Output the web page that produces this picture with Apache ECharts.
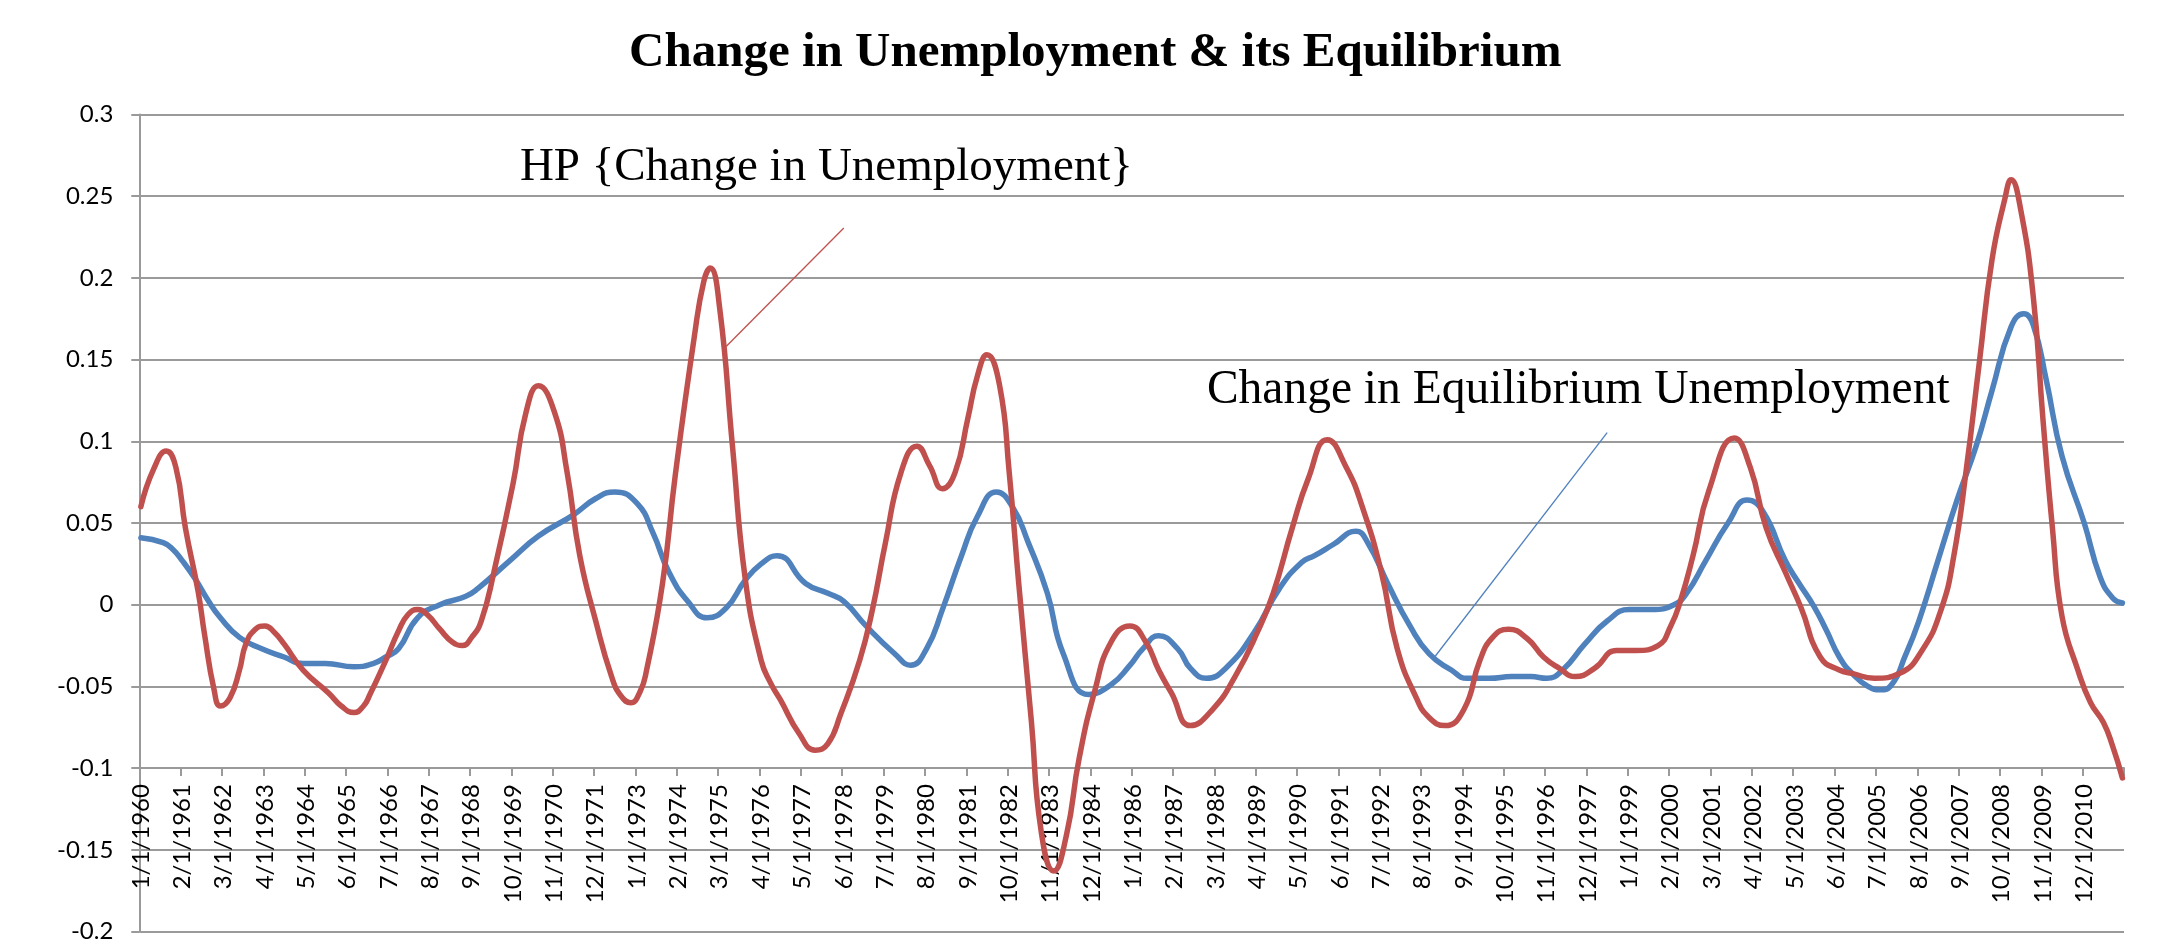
<!DOCTYPE html>
<html>
<head>
<meta charset="utf-8">
<script src="https://cdn.jsdelivr.net/npm/echarts@6/dist/echarts.min.js"></script>
<style>
html,body{margin:0;padding:0;background:#ffffff;}
#chart{width:2167px;height:950px;}
</style>
</head>
<body>
<div id="chart"></div>
<script>
// ---------- DATA ----------
// Monthly categories, January 1960 onwards (624 months)
const startYear = 1960;
const monthCount = 624;
const categories = [];
for (let i = 0; i < monthCount; i++) {
  categories.push((i % 12 + 1) + '/1/' + (startYear + Math.floor(i / 12)));
}

// Change in equilibrium unemployment: [month index, value]
const eqChange = [
  [0,0.041],[7,0.038],[10,0.034],[13,0.027],[17,0.016],[21,0.003],[25,-0.008],[31,-0.020],
  [38,-0.027],[45,-0.032],[51,-0.036],[58,-0.036],[67,-0.038],[73,-0.036],[77,-0.032],[81,-0.027],
  [87,-0.008],[94,0.000],[102,0.005],[106,0.010],[116,0.027],[125,0.042],[136,0.055],[143,0.065],
  [149,0.069],[156,0.062],[161,0.044],[166,0.020],[172,0.002],[178,-0.008],[184,-0.002],[190,0.015],
  [195,0.025],[200,0.030],[209,0.013],[216,0.007],[221,0.002],[228,-0.013],[237,-0.030],[242,-0.037],
  [247,-0.027],[252,-0.003],[258,0.030],[263,0.054],[269,0.069],[274,0.060],[279,0.038],[285,0.007],
  [290,-0.030],[298,-0.055],[305,-0.049],[311,-0.037],[315,-0.027],[320,-0.019],[326,-0.027],[330,-0.039],
  [335,-0.045],[341,-0.039],[350,-0.017],[358,0.010],[365,0.026],[369,0.030],[375,0.037],[382,0.045],
  [386,0.037],[392,0.013],[399,-0.013],[405,-0.030],[412,-0.040],[417,-0.045],[424,-0.045],[431,-0.044],
  [437,-0.044],[442,-0.045],[447,-0.040],[454,-0.024],[461,-0.010],[468,-0.003],[475,-0.003],[482,0.000],
  [486,0.007],[492,0.027],[499,0.050],[505,0.064],[510,0.057],[517,0.027],[521,0.014],[526,-0.001],
  [530,-0.016],[534,-0.032],[538,-0.042],[543,-0.050],[547,-0.052],[550,-0.050],[555,-0.030],[559,-0.010],
  [565,0.027],[571,0.064],[577,0.097],[582,0.131],[588,0.170],[592,0.178],[595,0.171],[599,0.138],
  [604,0.091],[611,0.050],[616,0.017],[620,0.004],[623,0.001]
];

// HP {Change in Unemployment}: [month index, value]
const hpChange = [
  [0,0.060],[4,0.083],[8,0.094],[11,0.084],[14,0.047],[18,0.008],[20,-0.018],[23,-0.052],
  [25,-0.062],[28,-0.057],[31,-0.040],[33,-0.024],[36,-0.015],[39,-0.013],[42,-0.017],[45,-0.024],
  [51,-0.040],[59,-0.054],[63,-0.062],[67,-0.066],[70,-0.062],[72,-0.055],[77,-0.034],[81,-0.016],
  [84,-0.006],[87,-0.003],[90,-0.006],[94,-0.015],[98,-0.023],[101,-0.025],[104,-0.020],[107,-0.010],
  [111,0.020],[117,0.074],[121,0.117],[125,0.134],[130,0.118],[134,0.081],[138,0.030],[143,-0.010],
  [148,-0.044],[151,-0.056],[154,-0.060],[157,-0.053],[159,-0.040],[164,0.013],[168,0.079],[174,0.164],
  [177,0.198],[179,0.206],[182,0.181],[186,0.097],[190,0.016],[195,-0.034],[198,-0.048],[201,-0.058],
  [207,-0.079],[212,-0.089],[216,-0.085],[220,-0.067],[226,-0.034],[230,-0.003],[234,0.037],[239,0.081],
  [244,0.097],[248,0.085],[252,0.071],[256,0.081],[260,0.114],[263,0.140],[266,0.153],[270,0.134],
  [273,0.081],[276,0.013],[280,-0.072],[283,-0.138],[287,-0.163],[291,-0.141],[295,-0.094],[300,-0.052],
  [305,-0.023],[311,-0.013],[316,-0.023],[320,-0.040],[324,-0.054],[330,-0.074],[337,-0.064],[344,-0.044],
  [351,-0.017],[356,0.007],[362,0.047],[367,0.077],[373,0.101],[379,0.084],[384,0.060],[390,0.020],
  [395,-0.027],[401,-0.057],[405,-0.069],[410,-0.074],[416,-0.064],[421,-0.034],[425,-0.020],[430,-0.015],
  [436,-0.021],[441,-0.032],[446,-0.039],[451,-0.044],[457,-0.039],[464,-0.028],[470,-0.028],[477,-0.025],
  [481,-0.013],[484,0.002],[488,0.030],[493,0.070],[501,0.102],[506,0.084],[511,0.047],[517,0.020],
  [522,-0.002],[528,-0.032],[534,-0.040],[538,-0.042],[545,-0.045],[553,-0.042],[560,-0.028],[566,-0.003],
  [570,0.030],[574,0.084],[578,0.148],[582,0.211],[586,0.248],[588,0.260],[591,0.242],[595,0.188],
  [598,0.114],[601,0.047],[604,-0.007],[609,-0.040],[613,-0.060],[617,-0.072],[620,-0.087],[623,-0.106]
];

// Value axis
const yMin = -0.2, yMax = 0.3, yStep = 0.05;
const xAxisCrossesAt = -0.1;
const labelEvery = 13;

// Annotations (month index, value)
const hpLabel = { text: 'HP {Change in Unemployment}', at: [119, 0.2677] };
const hpLeader = [[184, 0.158], [221, 0.2305]];
const eqLabel = { text: 'Change in Equilibrium Unemployment', at: [335, 0.1308] };
const eqLeader = [[407, -0.0314], [461, 0.1053]];

// ---------- LAYOUT ----------
const W = 2167, H = 950;
const gridTop = 114.5, gridBottom = 18.5, gridLeft = 139.3, gridRight = 43;
const plotH = H - gridTop - gridBottom;
const xAxisOffset = -plotH * (xAxisCrossesAt - yMin) / (yMax - yMin);

const gridGray = '#9a9a9a';
const red = '#C0504D', blue = '#4F81BD';
const annoFont = 'Liberation Serif';

function markLabel(lbl, size) {
  return {
    symbol: 'circle', symbolSize: 1, silent: true,
    itemStyle: { color: 'rgba(0,0,0,0)' },
    label: {
      show: true, position: 'right', distance: 0,
      formatter: function () { return lbl.text; },
      fontFamily: annoFont, fontSize: size, color: '#000'
    },
    data: [{ coord: [categories[lbl.at[0]], lbl.at[1]] }]
  };
}
function markLeader(seg, color) {
  return {
    symbol: ['none', 'none'], silent: true, animation: false,
    label: { show: false },
    lineStyle: { color: color, width: 1.3, type: 'solid' },
    emphasis: { disabled: true },
    data: [[{ coord: [categories[seg[0][0]], seg[0][1]] }, { coord: [categories[seg[1][0]], seg[1][1]] }]]
  };
}

const chart = echarts.init(document.getElementById('chart'), null, { renderer: 'canvas', width: W, height: H });
chart.setOption({
  animation: false,
  backgroundColor: '#ffffff',
  title: {
    text: 'Change in Unemployment & its Equilibrium',
    left: 629, top: 29, padding: 0,
    textStyle: { fontFamily: annoFont, fontWeight: 'bold', fontSize: 49, color: '#000' }
  },
  grid: { left: gridLeft, right: gridRight, top: gridTop, bottom: gridBottom, containLabel: false },
  xAxis: {
    type: 'category',
    data: categories,
    boundaryGap: true,
    position: 'bottom',
    offset: xAxisOffset,
    axisLine: { show: true, onZero: false, lineStyle: { color: gridGray, width: 2 } },
    axisTick: { show: true, interval: labelEvery - 1, length: 8, inside: false, lineStyle: { color: gridGray, width: 2 } },
    axisLabel: {
      show: true, interval: labelEvery - 1, rotate: 90, margin: 16,
      fontFamily: 'Lato', fontSize: 24, color: '#000'
    },
    splitLine: { show: false }
  },
  yAxis: {
    type: 'value',
    min: yMin, max: yMax, interval: yStep,
    axisLine: { show: true, lineStyle: { color: gridGray, width: 2 } },
    axisTick: { show: true, length: 8, inside: false, lineStyle: { color: gridGray, width: 2 } },
    axisLabel: {
      margin: 26, fontFamily: 'Lato', fontSize: 24, color: '#000',
      formatter: function (v) { return String(parseFloat(v.toFixed(2))); }
    },
    splitLine: { show: true, lineStyle: { color: gridGray, width: 2 } }
  },
  series: [
    {
      name: 'Change in Equilibrium Unemployment',
      type: 'line', data: eqChange, smooth: 0.5, showSymbol: false, symbol: 'none',
      lineStyle: { color: blue, width: 5.5, cap: 'round', join: 'round' },
      itemStyle: { color: blue },
      emphasis: { disabled: true },
      markLine: markLeader(eqLeader, blue),
      markPoint: markLabel(eqLabel, 47.5),
      z: 2
    },
    {
      name: 'HP {Change in Unemployment}',
      type: 'line', data: hpChange, smooth: 0.5, showSymbol: false, symbol: 'none',
      lineStyle: { color: red, width: 5.5, cap: 'round', join: 'round' },
      itemStyle: { color: red },
      emphasis: { disabled: true },
      markLine: markLeader(hpLeader, red),
      markPoint: markLabel(hpLabel, 47),
      z: 3
    }
  ]
});
</script>
</body>
</html>
